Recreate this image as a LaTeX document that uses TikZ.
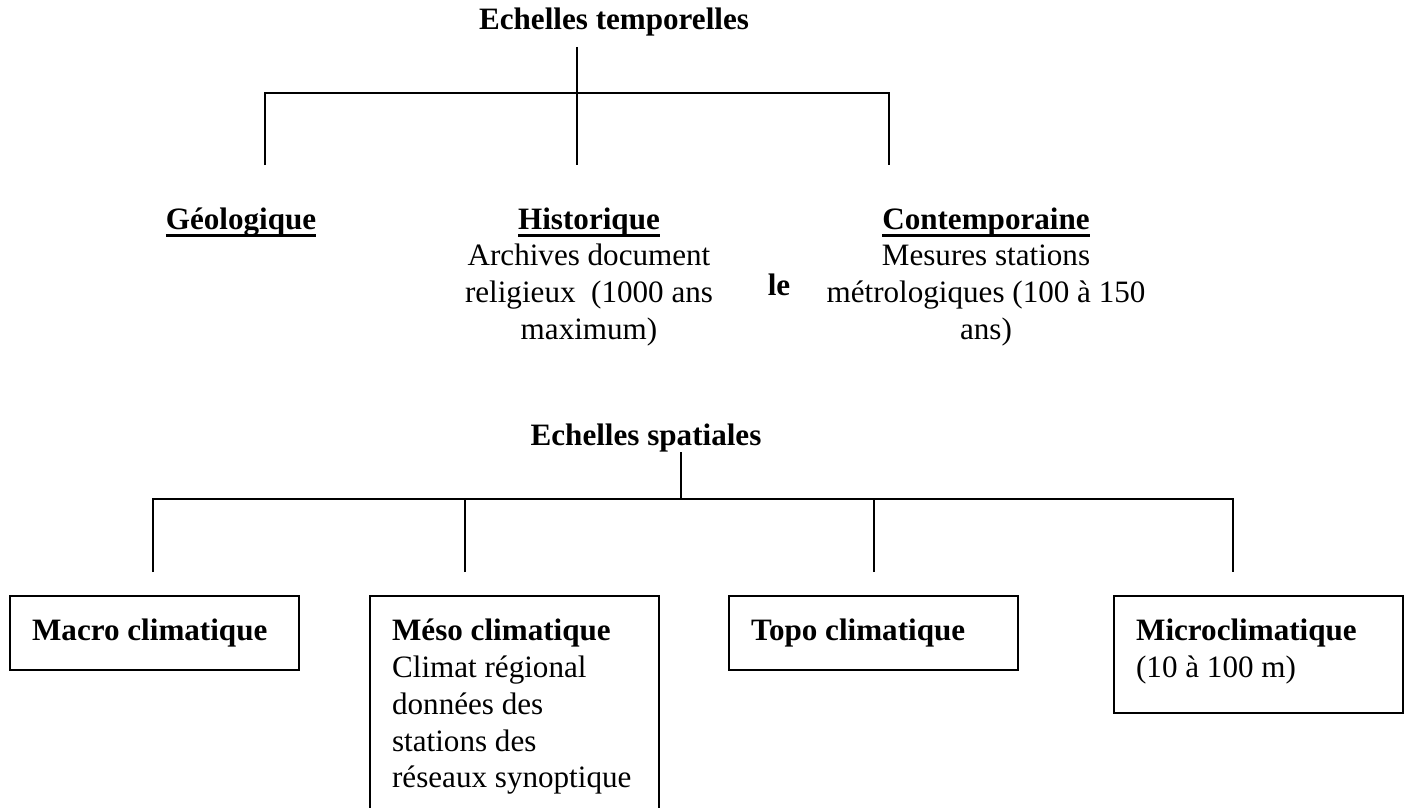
\documentclass[tikz,border=0pt]{standalone}
\usepackage{fontspec}
\setmainfont{Liberation Serif}
\usetikzlibrary{positioning}
\tikzset{
  title/.style={font=\fontsize{14}{16.6}\selectfont\bfseries, inner sep=0pt},
  branch/.style={align=flush center, anchor=north, font=\fontsize{14}{16.6}\selectfont, inner sep=0pt},
  scalebox/.style={draw, line width=0.8pt, anchor=north west, align=flush left, inner xsep=10pt, inner ysep=10pt,
    text width=110pt, text height=10pt, text depth=3.5pt, font=\fontsize{14}{16.6}\selectfont},
  tree/.style={line width=0.7pt}
}
\newsavebox\headbox
\newcommand{\headl}[1]{\sbox\headbox{\textbf{#1}}\rlap{\rule[-3.4pt]{\wd\headbox}{1.2pt}}\usebox\headbox}

\begin{document}
\begin{tikzpicture}[x=0.45pt,y=-0.45pt]
\useasboundingbox (0,0) rectangle (1405,807);

% echelles temporelles
\node[title] (temp) at (614,22) {Echelles temporelles};
\coordinate (ttop) at (577,47);
\coordinate (tj) at (577,93);
\coordinate (tg) at (265,165);
\coordinate (th) at (577,165);
\coordinate (tc) at (889,165);
\draw[tree] (ttop) -- (th);
\draw[tree] (tg) -- (tg |- tj) -- (tc |- tj) -- (tc);

\node[branch] (geo) at (241,207) {\headl{Géologique}};
\node[branch] (hist) at (589,207) {\headl{Historique}\\Archives document\\religieux~~(1000 ans\\maximum)};
\node[branch] (cont) at (986,207) {\headl{Contemporaine}\\Mesures stations\\métrologiques (100 à 150\\ans)};
\node[title] (le) at (779,285) {le};

% echelles spatiales
\node[title] (spat) at (646,438) {Echelles spatiales};
\coordinate (stop) at (681,452);
\coordinate (sj) at (681,499);
\coordinate (s1) at (153,572);
\coordinate (s2) at (465,572);
\coordinate (s3) at (874,572);
\coordinate (s4) at (1233,572);
\draw[tree] (stop) -- (sj);
\draw[tree] (s1) -- (s1 |- sj) -- (s4 |- sj) -- (s4);
\draw[tree] (s2) -- (s2 |- sj);
\draw[tree] (s3) -- (s3 |- sj);

\node[scalebox] (macro) at (9,595) {\textbf{Macro climatique}};
\node[scalebox, text depth=90pt] (meso) at (369,595) {\textbf{Méso climatique}\\Climat régional\\données des\\stations des\\réseaux synoptique};
\node[scalebox] (topo) at (728,595) {\textbf{Topo climatique}};
\node[scalebox, text depth=22.7pt] (micro) at (1113,595) {\textbf{Microclimatique}\\(10 à 100 m)};
\end{tikzpicture}
\end{document}
